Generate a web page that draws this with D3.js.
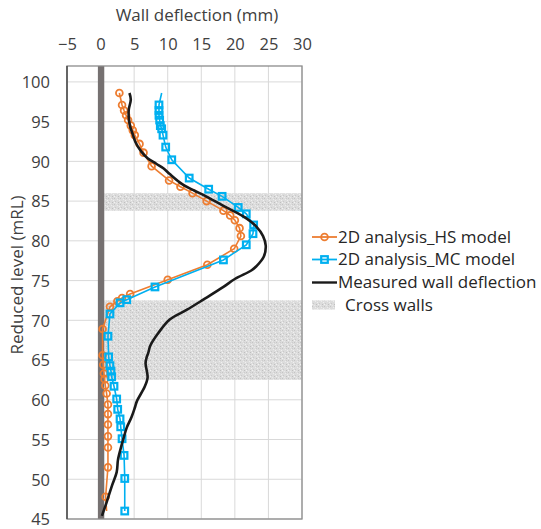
<!DOCTYPE html>
<html>
<head>
<meta charset="utf-8">
<script src="https://cdn.jsdelivr.net/npm/d3@7"></script>
<style>
  body { margin: 0; background: #fff; }
  text { font-family: "Open Sans", "Noto Sans", sans-serif; }
</style>
</head>
<body>
<div id="chart"></div>
<script>
// wall deflection profiles vs reduced level

// 2D analysis, HS model (deflection mm, level mRL)
const hsDefl = [2.8, 3.2, 3.5, 3.8, 4.1, 4.5, 4.8, 5.1, 5.8, 6.4, 7.6, 10.2, 11.9, 13.7, 15.8, 18.3, 19.3, 20.0, 20.7, 20.9,
                19.9, 15.9, 10.0, 4.4, 3.2, 2.5, 1.4, 0.3, 0.3, 0.4, 0.5, 0.6, 0.7, 0.9, 1.1, 1.1, 1.1, 1.1, 1.1, 1.1, 0.75, 0.9];
const hsLevel = [98.6, 97.1, 96.4, 95.8, 95.2, 94.5, 93.9, 93.3, 92.2, 91.1, 89.4, 87.6, 86.8, 86.0, 85.0, 83.8, 83.2, 82.6, 81.6, 80.6,
                 79.0, 77.0, 75.1, 73.3, 72.8, 72.4, 71.7, 68.9, 65.6, 64.4, 63.3, 62.6, 61.8, 60.8, 59.4, 58.2, 56.9, 55.4, 54.0, 51.5, 47.8, 46.0];
const hsNoMarker = [41];

// 2D analysis, MC model
const mcDefl = [9.1, 8.7, 8.7, 8.7, 8.8, 8.9, 9.1, 9.3, 9.7, 10.6, 13.2, 16.1, 18.1, 20.5, 21.7, 22.8, 22.7, 21.7, 18.3,
                8.1, 3.9, 2.9, 1.4, 1.1, 1.2, 1.4, 1.55, 1.65, 2.0, 2.4, 2.55, 2.9, 3.0, 3.2, 3.5, 3.6, 3.6];
const mcLevel = [98.6, 97.1, 96.4, 95.8, 95.2, 94.5, 94.1, 93.3, 91.8, 90.2, 87.9, 86.5, 85.6, 84.2, 83.4, 82.0, 80.9, 79.5, 77.6,
                 74.2, 72.6, 72.2, 70.8, 68.0, 65.4, 64.3, 63.6, 62.9, 61.7, 60.1, 58.8, 57.6, 56.6, 55.1, 53.0, 50.1, 46.0];
const mcNoMarker = [0];

// measured wall deflection (inclinometer)
const measDefl = [4.3, 4.5, 4.2, 4.2, 4.4, 4.8, 5.2, 6.1, 7.0, 8.3, 9.4, 10.3, 12.2, 14.0, 15.5, 18.3, 21.2, 23.2, 24.2, 24.6,
                  24.3, 23.2, 22.5, 20.0, 18.3, 15.3, 12.8, 10.3, 8.6, 7.4, 7.1, 6.85, 6.7, 6.85, 7.0, 6.6, 5.4, 5.1, 4.6, 3.9,
                  3.5, 3.1, 2.6, 2.4, 1.7, 0.9, 0.2];
const measLevel = [98.6, 97.8, 96.5, 95.5, 94.4, 93.4, 92.4, 91.2, 90.4, 89.7, 89.1, 88.4, 87.1, 86.3, 85.7, 84.4, 83.1, 81.8, 80.6, 79.4,
                   78.0, 76.8, 76.3, 75.2, 74.2, 72.6, 71.3, 70.1, 68.4, 66.8, 65.9, 65.3, 64.6, 63.8, 62.8, 61.7, 59.8, 59.0, 57.8, 56.5,
                   55.4, 54.2, 52.5, 50.9, 49.2, 47.1, 45.4];

// cross wall levels and wall face
const crossWalls = [[83.8, 86.0], [62.5, 72.5]];
const wallFace = [-0.4, 0.55];

const xTicks = [-5, 0, 5, 10, 15, 20, 25, 30];
const yTicks = [45, 50, 55, 60, 65, 70, 75, 80, 85, 90, 95, 100];

const seriesNames = ["2D analysis_HS model", "2D analysis_MC model", "Measured wall deflection", "Cross walls"];
const orange = "#ED7D31", blue = "#00B0F0", black = "#1a1a1a";

let width = 541, height = 529;
let plot = {left: 67, right: 302, top: 66, bottom: 519};

let svg = d3.select("#chart").append("svg")
            .attr("width", width)
            .attr("height", height);

// stipple texture for cross walls (fixed speckle layout)
let defs = svg.append("defs");
let pat = defs.append("pattern")
              .attr("id", "stipple")
              .attr("patternUnits", "userSpaceOnUse")
              .attr("width", 6).attr("height", 6);
pat.append("rect").attr("width", 6).attr("height", 6).attr("fill", "#dcdcdc");
[[0,0,"#c4c4c4"],[3,1,"#ececec"],[1,3,"#c9c9c9"],[4,4,"#bfbfbf"],[5,2,"#f0f0f0"],[2,5,"#e9e9e9"],[0,4,"#f2f2f2"],[4,0,"#cccccc"]]
  .forEach(function(s) {
    pat.append("rect").attr("x", s[0]).attr("y", s[1]).attr("width", 1).attr("height", 1).attr("fill", s[2]);
  });

let x = d3.scaleLinear().domain([-5, 30]).range([plot.left, plot.right]);
let y = d3.scaleLinear().domain([45, 102]).range([plot.bottom, plot.top]);

// gridlines
svg.append("g")
   .selectAll("line")
   .data(yTicks)
   .enter().append("line")
   .attr("x1", plot.left).attr("x2", plot.right)
   .attr("y1", function(d) { return y(d); }).attr("y2", function(d) { return y(d); })
   .attr("stroke", "#d9d9d9").attr("stroke-width", 1);

svg.append("g")
   .selectAll("line")
   .data(xTicks)
   .enter().append("line")
   .attr("x1", function(d) { return x(d); }).attr("x2", function(d) { return x(d); })
   .attr("y1", plot.top).attr("y2", plot.bottom)
   .attr("stroke", "#d9d9d9").attr("stroke-width", 1);

// cross wall bands
svg.append("g")
   .selectAll("rect")
   .data(crossWalls)
   .enter().append("rect")
   .attr("x", x(wallFace[1]))
   .attr("width", x(30) - x(wallFace[1]))
   .attr("y", function(d) { return y(d[1]); })
   .attr("height", function(d) { return y(d[0]) - y(d[1]); })
   .attr("fill", "url(#stipple)");

// the wall itself
svg.append("rect")
   .attr("x", x(wallFace[0]))
   .attr("width", x(wallFace[1]) - x(wallFace[0]))
   .attr("y", plot.top)
   .attr("height", plot.bottom - plot.top)
   .attr("fill", "#767171");

// plot border
svg.append("rect")
   .attr("x", plot.left).attr("y", plot.top)
   .attr("width", plot.right - plot.left).attr("height", plot.bottom - plot.top)
   .attr("fill", "none").attr("stroke", "#8c8c8c").attr("stroke-width", 1.3);
svg.append("line")
   .attr("x1", plot.left).attr("x2", plot.left)
   .attr("y1", plot.top).attr("y2", plot.bottom)
   .attr("stroke", "#404040").attr("stroke-width", 1.3);

let line = d3.line()
             .x(function(d) { return x(d[0]); })
             .y(function(d) { return y(d[1]); });

let hsData = d3.zip(hsDefl, hsLevel);
let mcData = d3.zip(mcDefl, mcLevel);
let measData = d3.zip(measDefl, measLevel);

// HS model
svg.append("path")
   .datum(hsData)
   .attr("d", line)
   .attr("fill", "none").attr("stroke", orange).attr("stroke-width", 1.6);
svg.append("g")
   .selectAll("circle")
   .data(hsData.filter(function(d, i) { return hsNoMarker.indexOf(i) < 0; }))
   .enter().append("circle")
   .attr("cx", function(d) { return x(d[0]); })
   .attr("cy", function(d) { return y(d[1]); })
   .attr("r", 3.4)
   .attr("fill", "none").attr("stroke", orange).attr("stroke-width", 1.8);

// MC model
svg.append("path")
   .datum(mcData)
   .attr("d", line)
   .attr("fill", "none").attr("stroke", blue).attr("stroke-width", 1.6);
svg.append("g")
   .selectAll("rect")
   .data(mcData.filter(function(d, i) { return mcNoMarker.indexOf(i) < 0; }))
   .enter().append("rect")
   .attr("x", function(d) { return x(d[0]) - 3.3; })
   .attr("y", function(d) { return y(d[1]) - 3.3; })
   .attr("width", 6.6).attr("height", 6.6)
   .attr("fill", "none").attr("stroke", blue).attr("stroke-width", 2.2);

// measured
svg.append("path")
   .datum(measData)
   .attr("d", line.curve(d3.curveCatmullRom))
   .attr("fill", "none").attr("stroke", black).attr("stroke-width", 2.6)
   .attr("stroke-linejoin", "round");

// axes
let xAxis = svg.append("g")
   .attr("transform", "translate(0," + plot.top + ")")
   .call(d3.axisTop(x).tickValues(xTicks).tickSize(0).tickPadding(16).tickFormat(d3.format("d")));
let yAxis = svg.append("g")
   .attr("transform", "translate(" + plot.left + ",0)")
   .call(d3.axisLeft(y).tickValues(yTicks).tickSize(0).tickPadding(17).tickFormat(d3.format("d")));
[xAxis, yAxis].forEach(function(a) {
  a.select(".domain").remove();
  a.selectAll("text").attr("font-size", 16.5).attr("fill", "#404040")
   .style("font-family", "'Open Sans', sans-serif");
});
yAxis.selectAll("text").attr("dy", "0.35em");

svg.append("text")
   .attr("x", 197).attr("y", 21)
   .attr("text-anchor", "middle")
   .attr("font-size", 17).attr("fill", "#404040")
   .text("Wall deflection (mm)");

svg.append("text")
   .attr("transform", "translate(23,275) rotate(-90)")
   .attr("text-anchor", "middle")
   .attr("font-size", 17).attr("fill", "#404040")
   .text("Reduced level (mRL)");

// legend
let legendY = [237, 259.5, 282.5, 305];
let legend = svg.append("g");
legend.append("line").attr("x1", 312).attr("x2", 337).attr("y1", legendY[0]).attr("y2", legendY[0])
      .attr("stroke", orange).attr("stroke-width", 1.8);
legend.append("circle").attr("cx", 324.5).attr("cy", legendY[0]).attr("r", 3.4)
      .attr("fill", "none").attr("stroke", orange).attr("stroke-width", 1.8);
legend.append("line").attr("x1", 312).attr("x2", 337).attr("y1", legendY[1]).attr("y2", legendY[1])
      .attr("stroke", blue).attr("stroke-width", 1.8);
legend.append("rect").attr("x", 321.2).attr("y", legendY[1] - 3.3).attr("width", 6.6).attr("height", 6.6)
      .attr("fill", "none").attr("stroke", blue).attr("stroke-width", 2.2);
legend.append("line").attr("x1", 312).attr("x2", 337).attr("y1", legendY[2]).attr("y2", legendY[2])
      .attr("stroke", black).attr("stroke-width", 2.4);
legend.append("rect").attr("x", 312).attr("y", legendY[3] - 4.5).attr("width", 23).attr("height", 9)
      .attr("fill", "url(#stipple)");

legend.selectAll("text")
      .data(seriesNames)
      .enter().append("text")
      .attr("x", function(d, i) { return i == 3 ? 345 : 338; })
      .attr("y", function(d, i) { return legendY[i]; })
      .attr("dy", "0.35em")
      .attr("font-size", 17)
      .attr("fill", "#262626")
      .text(function(d) { return d; });
</script>
</body>
</html>
